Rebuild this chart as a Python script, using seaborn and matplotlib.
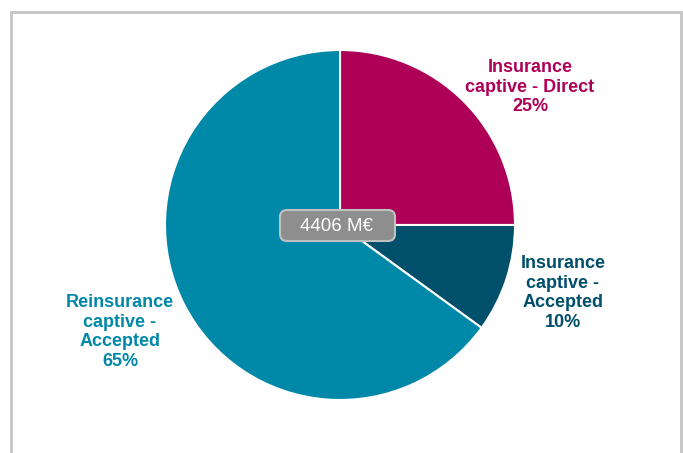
import matplotlib
matplotlib.use('Agg')
import matplotlib.pyplot as plt
import seaborn as sns
from matplotlib.lines import Line2D
from matplotlib.patches import FancyBboxPatch

# Data
categories = ['Insurance\ncaptive - Direct', 'Insurance\ncaptive -\nAccepted', 'Reinsurance\ncaptive -\nAccepted']
shares = [25, 10, 65]
total_label = '4406 M€'
colors = sns.color_palette(['#AE0057', '#004F6B', '#0088A8'])

sns.set_style('white')
plt.rcParams['font.family'] = ['Liberation Sans', 'DejaVu Sans']

W, H = 683, 453
fig = plt.figure(figsize=(W / 100, H / 100), dpi=100)

# pie centred at (340, 225) px, radius 175 px
cx, cy, r = 340, 225, 175
ax = fig.add_axes([(cx - r) / W, (H - cy - r) / H, 2 * r / W, 2 * r / H])
ax.pie(shares, colors=colors, startangle=90, counterclock=False,
       wedgeprops=dict(edgecolor='white', linewidth=1.5))
ax.set_xlim(-1, 1)
ax.set_ylim(-1, 1)
ax.set_aspect('equal')
ax.axis('off')

def px2d(px, py):
    return (px - cx) / r, (cy - py) / r

# slice labels (pixel positions of text centres)
label_px = [(530, 87), (563, 293), (120, 332)]
for cat, val, col, (px, py) in zip(categories, shares, colors, label_px):
    x, y = px2d(px, py)
    ax.text(x, y, f'{cat}\n{val}%', color=col,
            ha='center', va='center', fontsize=13, fontweight='bold',
            linespacing=1.22)

# centre total box
bx0, by0 = px2d(280, 241)
bx1, by1 = px2d(395, 210)
ax.add_patch(FancyBboxPatch((bx0, by0), bx1 - bx0, by1 - by0,
                            boxstyle='round,pad=0,rounding_size=0.04',
                            facecolor='#8E8E8E', edgecolor='#C0C0C0', linewidth=1.5,
                            zorder=5))
tx, ty = px2d(337, 226)
ax.text(tx, ty, total_label, color='white', ha='center', va='center',
        fontsize=13.5, zorder=6)

# frame around the chart (no bottom line)
frame = '#C8C8C8'
fig.add_artist(Line2D([11 / W, 11 / W], [0, 1 - 12 / H], color=frame, lw=2.2, transform=fig.transFigure))
fig.add_artist(Line2D([681 / W, 681 / W], [0, 1 - 12 / H], color=frame, lw=2.2, transform=fig.transFigure))
fig.add_artist(Line2D([11 / W, 681 / W], [1 - 12 / H, 1 - 12 / H], color=frame, lw=2.2, transform=fig.transFigure))

fig.savefig('out.png', dpi=100)
